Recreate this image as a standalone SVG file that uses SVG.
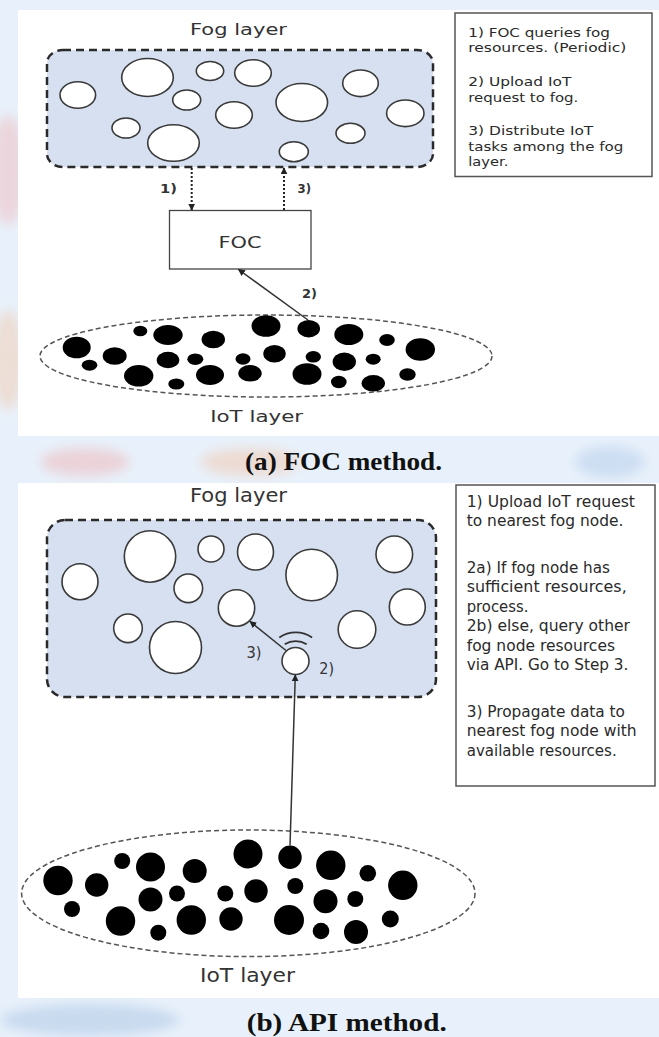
<svg xmlns="http://www.w3.org/2000/svg" width="659" height="1037" viewBox="0 0 659 1037">
<defs>
<style>
.fog{fill:#d6e0f1;stroke:#2a2a2a;stroke-width:2.5;stroke-dasharray:8 5}
.iot{fill:none;stroke:#555;stroke-width:1.5;stroke-dasharray:5 3}
.fn{fill:#fff;stroke:#3a3a3a;stroke-width:1.6}
.dn{fill:#000}
.lbl{font-family:"DejaVu Sans","Liberation Sans",sans-serif;fill:#333}
.box{fill:#fff;stroke:#555;stroke-width:1.5}
.bt{font-family:"DejaVu Sans","Liberation Sans",sans-serif;fill:#2a2a2a}
.cap{font-family:"Liberation Serif",serif;font-weight:bold;font-size:26px;fill:#111}
.dot{fill:none;stroke:#222;stroke-width:2;stroke-dasharray:2 2}
.sol{fill:none;stroke:#333;stroke-width:1.5}
.wifi{fill:none;stroke:#333;stroke-width:1.8}
</style>
<marker id="ah" viewBox="0 0 10 10" refX="9" refY="5" markerWidth="7" markerHeight="7" orient="auto" markerUnits="userSpaceOnUse"><path d="M0,0 L10,5 L0,10 z" fill="#222"/></marker>
<filter id="blur" x="-50%" y="-50%" width="200%" height="200%"><feGaussianBlur stdDeviation="6"/></filter>
</defs>

<!-- page background and faint watermark -->
<rect x="0" y="0" width="659" height="1037" fill="#e8f1fb"/>
<g filter="url(#blur)" opacity="0.35">
<ellipse cx="8" cy="170" rx="18" ry="55" fill="#f3a3a3"/>
<ellipse cx="8" cy="360" rx="16" ry="50" fill="#f6b98f"/>
<ellipse cx="85" cy="462" rx="45" ry="14" fill="#f19a9a"/>
<ellipse cx="250" cy="462" rx="50" ry="14" fill="#f5b48a"/>
<ellipse cx="610" cy="462" rx="35" ry="16" fill="#9dbbe2"/>
<ellipse cx="90" cy="1020" rx="90" ry="16" fill="#8fb0d8"/>
</g>

<!-- panel backgrounds -->
<rect x="18" y="10" width="641" height="426" fill="#fff"/>
<rect x="18" y="483" width="641" height="515" fill="#fff"/>

<!-- ===================== PANEL (a) ===================== -->
<g id="fog-layer-a">
<text class="lbl" x="238.5" y="35" font-size="15" text-anchor="middle" textLength="97" lengthAdjust="spacingAndGlyphs">Fog layer</text>
<rect class="fog" x="47" y="50" width="386" height="117" rx="16" ry="13"/>
</g>
<g id="fog-nodes-a">
<g id="fa1"><ellipse class="fn" cx="77.8" cy="95" rx="17.8" ry="13.3"/></g>
<g id="fa2"><ellipse class="fn" cx="147.5" cy="77.5" rx="25.8" ry="19"/></g>
<g id="fa3"><ellipse class="fn" cx="210" cy="71" rx="13.7" ry="9.5"/></g>
<g id="fa4"><ellipse class="fn" cx="253" cy="73" rx="18.3" ry="13.3"/></g>
<g id="fa5"><ellipse class="fn" cx="186.7" cy="100" rx="14" ry="10"/></g>
<g id="fa6"><ellipse class="fn" cx="234" cy="115" rx="18.3" ry="13.3"/></g>
<g id="fa7"><ellipse class="fn" cx="126" cy="128" rx="14" ry="10"/></g>
<g id="fa8"><ellipse class="fn" cx="173.5" cy="143" rx="25.8" ry="18.3"/></g>
<g id="fa9"><ellipse class="fn" cx="301.8" cy="102.5" rx="25.8" ry="19"/></g>
<g id="fa10"><ellipse class="fn" cx="293.8" cy="151.7" rx="14.5" ry="10"/></g>
<g id="fa11"><ellipse class="fn" cx="360.5" cy="83.3" rx="17.8" ry="13.3"/></g>
<g id="fa12"><ellipse class="fn" cx="350.5" cy="133.3" rx="14.5" ry="10"/></g>
<g id="fa13"><ellipse class="fn" cx="405.3" cy="113.3" rx="18.7" ry="13.3"/></g>
</g>

<g id="foc">
<rect x="169.5" y="210.5" width="141.5" height="58.5" fill="#fff" stroke="#444" stroke-width="1.3"/>
<text class="lbl" x="240" y="248" font-size="16" text-anchor="middle" textLength="43" lengthAdjust="spacingAndGlyphs">FOC</text>
</g>

<g id="iot-layer-a">
<ellipse class="iot" cx="266" cy="356" rx="226" ry="41"/>
<text class="lbl" x="256.7" y="421.7" font-size="15" text-anchor="middle" textLength="93" lengthAdjust="spacingAndGlyphs">IoT layer</text>
</g>
<g id="iot-nodes-a">
<g id="ia1"><ellipse class="dn" cx="76.7" cy="347.5" rx="14" ry="10.8"/></g>
<g id="ia2"><ellipse class="dn" cx="114.7" cy="356" rx="12" ry="8.8"/></g>
<g id="ia3"><ellipse class="dn" cx="140.3" cy="331" rx="7" ry="5.3"/></g>
<g id="ia4"><ellipse class="dn" cx="168" cy="335" rx="14.7" ry="10"/></g>
<g id="ia5"><ellipse class="dn" cx="168" cy="360" rx="11.3" ry="8.3"/></g>
<g id="ia6"><ellipse class="dn" cx="89.5" cy="365.2" rx="7.8" ry="5.5"/></g>
<g id="ia7"><ellipse class="dn" cx="138.7" cy="375.8" rx="14.7" ry="10.8"/></g>
<g id="ia8"><ellipse class="dn" cx="176.3" cy="384" rx="8" ry="5.5"/></g>
<g id="ia9"><ellipse class="dn" cx="195.3" cy="359.2" rx="8" ry="5.8"/></g>
<g id="ia10"><ellipse class="dn" cx="213.3" cy="339.5" rx="11.7" ry="8.8"/></g>
<g id="ia11"><ellipse class="dn" cx="210" cy="375" rx="14" ry="10"/></g>
<g id="ia12"><ellipse class="dn" cx="243" cy="359" rx="7.5" ry="5.8"/></g>
<g id="ia13"><ellipse class="dn" cx="250" cy="373.3" rx="11.7" ry="8.3"/></g>
<g id="ia14"><ellipse class="dn" cx="266" cy="326" rx="14.5" ry="10.8"/></g>
<g id="ia15"><ellipse class="dn" cx="274.5" cy="353.8" rx="11.2" ry="8.8"/></g>
<g id="ia16"><ellipse class="dn" cx="308.7" cy="328.7" rx="11.3" ry="8.7"/></g>
<g id="ia17"><ellipse class="dn" cx="313.3" cy="356.8" rx="7.7" ry="5.8"/></g>
<g id="ia18"><ellipse class="dn" cx="307" cy="374" rx="14.5" ry="10.8"/></g>
<g id="ia19"><ellipse class="dn" cx="348.8" cy="334.5" rx="14.5" ry="10.5"/></g>
<g id="ia20"><ellipse class="dn" cx="344.3" cy="361.7" rx="11.7" ry="9.2"/></g>
<g id="ia21"><ellipse class="dn" cx="338.8" cy="382" rx="7.8" ry="6.2"/></g>
<g id="ia22"><ellipse class="dn" cx="373.3" cy="383.3" rx="11.7" ry="8.3"/></g>
<g id="ia23"><ellipse class="dn" cx="373.2" cy="359.2" rx="7.5" ry="5.5"/></g>
<g id="ia24"><ellipse class="dn" cx="387" cy="340" rx="7.8" ry="6"/></g>
<g id="ia25"><ellipse class="dn" cx="407.5" cy="374.5" rx="8.2" ry="6.2"/></g>
<g id="ia26"><ellipse class="dn" cx="420.3" cy="349.5" rx="14.7" ry="11.2"/></g>
</g>

<g id="legend-a">
<rect class="box" x="455" y="13" width="197" height="163.5"/>
<text class="bt" font-size="13">
<tspan x="468.3" y="36.7" textLength="141.7" lengthAdjust="spacingAndGlyphs">1) FOC queries fog</tspan>
<tspan x="468.3" y="52.3" textLength="158" lengthAdjust="spacingAndGlyphs">resources. (Periodic)</tspan>
<tspan x="468.3" y="86" textLength="103" lengthAdjust="spacingAndGlyphs">2) Upload IoT</tspan>
<tspan x="468.3" y="101.7" textLength="110" lengthAdjust="spacingAndGlyphs">request to fog.</tspan>
<tspan x="468.3" y="135" textLength="125" lengthAdjust="spacingAndGlyphs">3) Distribute IoT</tspan>
<tspan x="468.3" y="150.5" textLength="155" lengthAdjust="spacingAndGlyphs">tasks among the fog</tspan>
<tspan x="468.3" y="166" textLength="40" lengthAdjust="spacingAndGlyphs">layer.</tspan>
</text>
</g>

<g id="connectors-a">
<line class="dot" x1="191.7" y1="168" x2="191.7" y2="210" marker-end="url(#ah)"/>
<line class="dot" x1="284" y1="210" x2="284" y2="168" marker-end="url(#ah)"/>
<line class="sol" x1="308" y1="320" x2="238.5" y2="269.5" marker-end="url(#ah)"/>
<text class="lbl" x="160" y="193" font-size="12.5" font-weight="bold" textLength="17" lengthAdjust="spacingAndGlyphs">1)</text>
<text class="lbl" x="297.5" y="193" font-size="12.5" font-weight="bold" textLength="13.5" lengthAdjust="spacingAndGlyphs">3)</text>
<text class="lbl" x="302" y="298" font-size="12.5" font-weight="bold" textLength="15" lengthAdjust="spacingAndGlyphs">2)</text>
</g>

<g id="caption-a">
<text class="cap" x="245" y="469.5" textLength="197" lengthAdjust="spacingAndGlyphs">(a) FOC method.</text>
</g>

<!-- ===================== PANEL (b) ===================== -->
<g id="fog-layer-b">
<text class="lbl" x="238.5" y="501.7" font-size="20" text-anchor="middle" textLength="97" lengthAdjust="spacingAndGlyphs">Fog layer</text>
<rect class="fog" x="47" y="520" width="389" height="177" rx="18" ry="18"/>
</g>
<g id="fog-nodes-b">
<g id="fb1"><circle class="fn" cx="80" cy="581.7" r="18"/></g>
<g id="fb2"><circle class="fn" cx="150" cy="556.5" r="25.7"/></g>
<g id="fb3"><circle class="fn" cx="211" cy="549" r="13"/></g>
<g id="fb4"><circle class="fn" cx="255.5" cy="552" r="18"/></g>
<g id="fb5"><circle class="fn" cx="188.3" cy="588.3" r="14.3"/></g>
<g id="fb6"><circle class="fn" cx="236.5" cy="608" r="18.2"/></g>
<g id="fb7"><circle class="fn" cx="128" cy="628.3" r="14.3"/></g>
<g id="fb8"><circle class="fn" cx="175.5" cy="647.5" r="26"/></g>
<g id="fb9"><circle class="fn" cx="311.7" cy="575" r="25.8"/></g>
<g id="fb10"><circle class="fn" cx="394.3" cy="554.3" r="18.3"/></g>
<g id="fb11"><circle class="fn" cx="407.3" cy="607" r="18"/></g>
<g id="fb12"><circle class="fn" cx="357" cy="629.5" r="18.8"/></g>
</g>
<g id="source-node-b">
<circle class="fn" cx="295.5" cy="661" r="13.5"/>
<path class="wifi" d="M 279.3 637.5 A 29 29 0 0 1 312.1 637.5"/>
<path class="wifi" d="M 284.7 644.3 A 21 21 0 0 1 306.7 644.3"/>
</g>

<g id="iot-layer-b">
<ellipse class="iot" cx="248.3" cy="893.3" rx="226.7" ry="63.3"/>
<text class="lbl" x="247.5" y="981.7" font-size="20" text-anchor="middle" textLength="95" lengthAdjust="spacingAndGlyphs">IoT layer</text>
</g>
<g id="iot-nodes-b">
<g id="ib1"><circle class="dn" cx="58" cy="880.5" r="14.7"/></g>
<g id="ib2"><circle class="dn" cx="96.7" cy="885" r="11.7"/></g>
<g id="ib3"><circle class="dn" cx="122.2" cy="861" r="8"/></g>
<g id="ib4"><circle class="dn" cx="150.5" cy="867" r="14.5"/></g>
<g id="ib5"><circle class="dn" cx="150.5" cy="899.5" r="12"/></g>
<g id="ib6"><circle class="dn" cx="72" cy="909" r="8"/></g>
<g id="ib7"><circle class="dn" cx="120.5" cy="921" r="14.7"/></g>
<g id="ib8"><circle class="dn" cx="158.3" cy="932.7" r="8"/></g>
<g id="ib9"><circle class="dn" cx="177" cy="893.5" r="8"/></g>
<g id="ib10"><circle class="dn" cx="194.7" cy="871" r="12"/></g>
<g id="ib11"><circle class="dn" cx="191.3" cy="920" r="14.7"/></g>
<g id="ib12"><circle class="dn" cx="225.3" cy="893.5" r="8"/></g>
<g id="ib13"><circle class="dn" cx="231" cy="919" r="11.7"/></g>
<g id="ib14"><circle class="dn" cx="248" cy="854" r="14.5"/></g>
<g id="ib15"><circle class="dn" cx="256" cy="891" r="11.7"/></g>
<g id="ib16"><circle class="dn" cx="290" cy="857.3" r="11.7"/></g>
<g id="ib17"><circle class="dn" cx="295.3" cy="886" r="8"/></g>
<g id="ib18"><circle class="dn" cx="289" cy="920" r="15"/></g>
<g id="ib19"><circle class="dn" cx="330.8" cy="865.3" r="14.7"/></g>
<g id="ib20"><circle class="dn" cx="325.5" cy="901.3" r="12"/></g>
<g id="ib21"><circle class="dn" cx="321" cy="931" r="8.3"/></g>
<g id="ib22"><circle class="dn" cx="356" cy="932" r="12"/></g>
<g id="ib23"><circle class="dn" cx="355.3" cy="899" r="8"/></g>
<g id="ib24"><circle class="dn" cx="367.8" cy="873.3" r="8.3"/></g>
<g id="ib25"><circle class="dn" cx="390.3" cy="919" r="8.5"/></g>
<g id="ib26"><circle class="dn" cx="402.8" cy="885.3" r="14.7"/></g>
</g>

<g id="legend-b">
<rect class="box" x="456" y="485" width="199" height="301"/>
<text class="bt" font-size="15.5">
<tspan x="466.7" y="506.5" textLength="168.3" lengthAdjust="spacingAndGlyphs">1) Upload IoT request</tspan>
<tspan x="466.7" y="526" textLength="156.7" lengthAdjust="spacingAndGlyphs">to nearest fog node.</tspan>
<tspan x="466.7" y="572.5" textLength="143.3" lengthAdjust="spacingAndGlyphs">2a) If fog node has</tspan>
<tspan x="466.7" y="592" textLength="160" lengthAdjust="spacingAndGlyphs">sufficient resources,</tspan>
<tspan x="466.7" y="611.5" textLength="61.7" lengthAdjust="spacingAndGlyphs">process.</tspan>
<tspan x="466.7" y="631" textLength="163.3" lengthAdjust="spacingAndGlyphs">2b) else, query other</tspan>
<tspan x="466.7" y="650.5" textLength="148.3" lengthAdjust="spacingAndGlyphs">fog node resources</tspan>
<tspan x="466.7" y="670" textLength="161.7" lengthAdjust="spacingAndGlyphs">via API. Go to Step 3.</tspan>
<tspan x="466.7" y="716.5" textLength="158.3" lengthAdjust="spacingAndGlyphs">3) Propagate data to</tspan>
<tspan x="466.7" y="736" textLength="170" lengthAdjust="spacingAndGlyphs">nearest fog node with</tspan>
<tspan x="466.7" y="755.5" textLength="150" lengthAdjust="spacingAndGlyphs">available resources.</tspan>
</text>
</g>

<g id="connectors-b">
<line class="sol" x1="290" y1="845.5" x2="295.3" y2="675" marker-end="url(#ah)"/>
<line class="sol" x1="286" y1="650.5" x2="250" y2="621.5" marker-end="url(#ah)"/>
<text class="lbl" x="246.5" y="657.5" font-size="16" textLength="15" lengthAdjust="spacingAndGlyphs">3)</text>
<text class="lbl" x="319.3" y="674" font-size="16" textLength="14.7" lengthAdjust="spacingAndGlyphs">2)</text>
</g>

<g id="caption-b">
<text class="cap" x="246.7" y="1030.5" textLength="200" lengthAdjust="spacingAndGlyphs">(b) API method.</text>
</g>
</svg>
